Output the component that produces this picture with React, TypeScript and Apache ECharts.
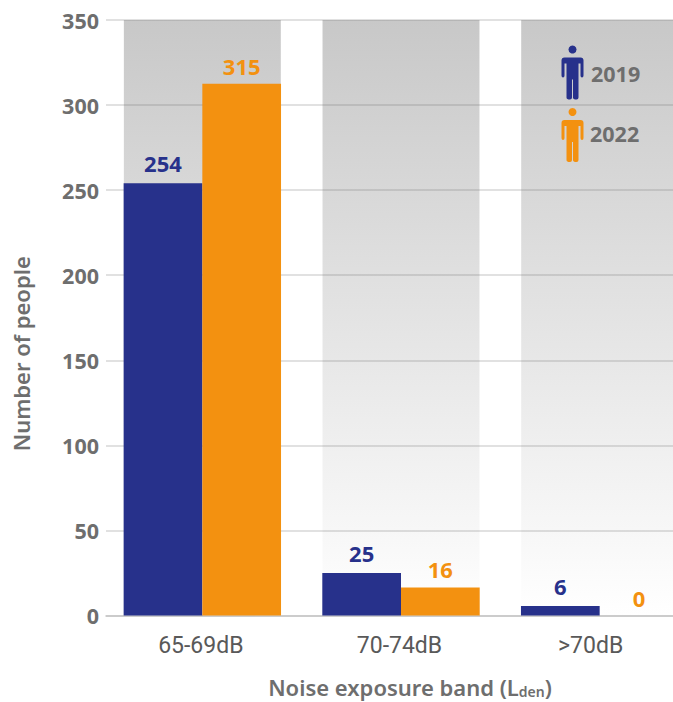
import React, { useEffect, useRef } from "react";
import * as echarts from "echarts";

const categories = ["65-69dB", "70-74dB", ">70dB"];
const values2019 = [254, 25, 5.6];
const values2022 = [312.5, 16.5, 0];
const labels2019 = ["254", "25", "6"];
const labels2022 = ["315", "16", "0"];
const bandTops = [350, 350, 350];
const yTicks = { min: 0, max: 350, interval: 50 };

const NAVY = "#27318b";
const ORANGE = "#f39110";
const GREY = "#6e6e6e";
const BOLD = "'Noto Sans', sans-serif";
const COND = "Roboto, sans-serif";

echarts.graphic.registerShape(
  "person",
  echarts.graphic.extendPath(
    "M3 0H19Q22 0 22 3V18Q22 20 20.5 20Q19 20 19 18V6H17V40Q17 42 15 42Q11.5 42 11.5 40V22H10.5V40Q10.5 42 8.5 42Q5 42 5 40V6H3V18Q3 20 1.5 20Q0 20 0 18V3Q0 0 3 0Z",
    {}
  )
);

function person(x: number, y: number, color: string) {
  return {
    type: "group",
    x,
    y,
    children: [
      { type: "circle", shape: { cx: 11, cy: -8, r: 4 }, style: { fill: color } },
      { type: "person", x: 0, y: 0, style: { fill: color } },
    ],
  };
}

function legendText(x: number, y: number, text: string) {
  return {
    type: "text",
    x,
    y,
    style: { text, fill: GREY, font: `bold 21.5px ${BOLD}`, textVerticalAlign: "middle" },
  };
}

export default function App() {
  const ref = useRef<HTMLDivElement>(null);
  useEffect(() => {
    document.body.style.margin = "0";
    const chart = echarts.init(ref.current!, undefined, { renderer: "svg" });
    chart.setOption({
      animation: false,
      backgroundColor: "#fff",
      grid: [
        { left: 103, top: 20, width: 596, height: 595.5, outerBoundsMode: "none" },
        { left: 106, top: 20, width: 567, height: 595.5, outerBoundsMode: "none" },
      ],
      xAxis: [
        {
          type: "category",
          gridIndex: 0,
          data: categories,
          axisLine: { show: false },
          axisTick: { show: false },
          axisLabel: {
            margin: 18,
            formatter: (v: string) => (v === ">70dB" ? `{shift|${v}}` : `{base|${v}}`),
            rich: {
              base: { fontFamily: COND, fontSize: 23, color: "#595959", padding: [0, 3, 0, 0] },
              shift: { fontFamily: COND, fontSize: 23, color: "#595959", padding: [0, 18, 0, 0] },
            },
          },
        },
        {
          type: "value",
          gridIndex: 1,
          min: 0,
          max: 1,
          axisLine: { show: true, onZero: false, lineStyle: { color: "#c4c4c4", width: 1.5 } },
          axisTick: { show: false },
          axisLabel: { show: false },
          splitLine: { show: false },
          name: "Noise exposure band (L{sub|den})",
          nameLocation: "middle",
          nameGap: 59,
          nameTextStyle: {
            fontFamily: BOLD,
            fontWeight: 600,
            fontSize: 22,
            color: GREY,
            padding: [0, 0, 0, 41],
            rich: {
              sub: { fontFamily: BOLD, fontWeight: 600, fontSize: 14, color: GREY, verticalAlign: "bottom", padding: [10, 0, 0, 0] },
            },
          },
        },
      ],
      yAxis: [
        { type: "value", gridIndex: 0, ...yTicks, show: false, splitLine: { show: false } },
        {
          type: "value",
          gridIndex: 1,
          ...yTicks,
          axisLine: { show: false },
          axisTick: { show: false },
          axisLabel: { margin: 7, fontFamily: BOLD, fontWeight: "bold", fontSize: 21.5, color: GREY },
          splitLine: { show: true, lineStyle: { color: "rgba(110,110,110,0.28)", width: 1.5 } },
          name: "Number of people",
          nameLocation: "middle",
          nameRotate: 90,
          nameGap: 74,
          nameTextStyle: {
            fontFamily: BOLD,
            fontWeight: 600,
            fontSize: 22,
            color: GREY,
            padding: [0, 72, 0, 0],
          },
        },
      ],
      graphic: {
        elements: [
          person(561.5, 57.5, NAVY),
          person(561.5, 120, ORANGE),
          legendText(591, 73, "2019"),
          legendText(590, 133, "2022"),
        ],
      },
      series: [
        {
          type: "custom",
          xAxisIndex: 0,
          yAxisIndex: 0,
          z: -1,
          silent: true,
          clip: false,
          data: bandTops.map((v, i) => [i, v]),
          encode: { x: 0, y: 1 },
          renderItem: (_: any, api: any) => {
            const top = api.coord([api.value(0), api.value(1)]);
            const bottom = api.coord([api.value(0), 0]);
            const w = api.size([1, 0])[0] * 0.79;
            return {
              type: "rect",
              shape: { x: top[0] - w / 2, y: top[1], width: w, height: bottom[1] - top[1] },
              style: {
                fill: new echarts.graphic.LinearGradient(0, 0, 0, 1, [
                  { offset: 0, color: "#c8c8c8" },
                  { offset: 1, color: "#ffffff" },
                ]),
              },
            };
          },
        },
        {
          name: "2019",
          type: "bar",
          xAxisIndex: 0,
          yAxisIndex: 0,
          data: values2019,
          barWidth: 78.7,
          barGap: 0,
          itemStyle: { color: NAVY },
          label: {
            show: true,
            position: "top",
            distance: 9,
            formatter: (p: any) => labels2019[p.dataIndex],
            fontFamily: BOLD,
            fontWeight: "bold",
            fontSize: 22,
            color: NAVY,
          },
        },
        {
          name: "2022",
          type: "bar",
          xAxisIndex: 0,
          yAxisIndex: 0,
          data: values2022,
          barWidth: 78.7,
          barGap: 0,
          itemStyle: { color: ORANGE },
          label: {
            show: true,
            position: "top",
            distance: 7,
            formatter: (p: any) => labels2022[p.dataIndex],
            fontFamily: BOLD,
            fontWeight: "bold",
            fontSize: 22,
            color: ORANGE,
          },
        },
      ],
    });
    return () => chart.dispose();
  }, []);
  return <div ref={ref} style={{ width: 673, height: 702 }} />;
}
